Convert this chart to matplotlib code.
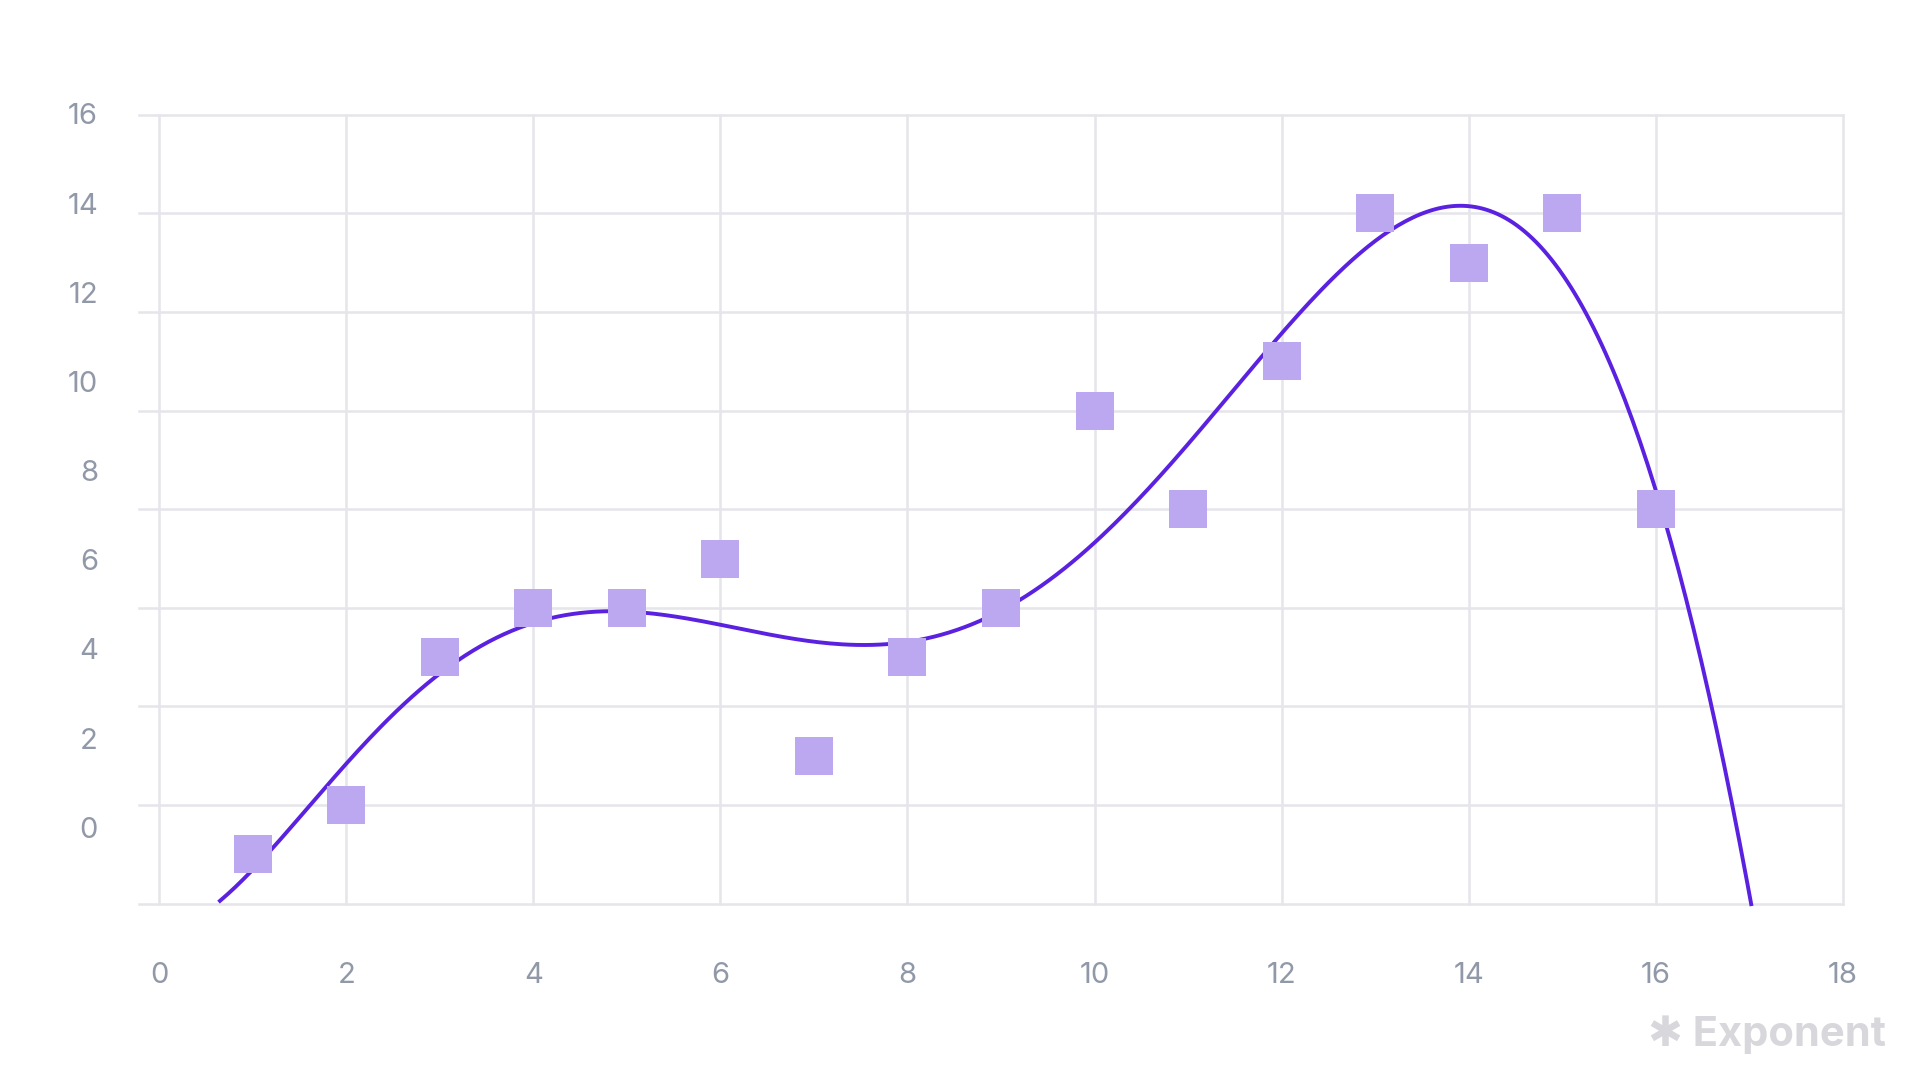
import numpy as np
import matplotlib
matplotlib.use("Agg")
import matplotlib.pyplot as plt

x_pts = [1, 2, 3, 4, 5, 6, 7, 8, 9, 10, 11, 12, 13, 14, 15, 16]
y_pts = [-1, 0, 3, 4, 4, 5, 1, 3, 4, 8, 6, 9, 12, 11, 12, 6]
x_ticks = [0, 2, 4, 6, 8, 10, 12, 14, 16, 18]
y_labels = ["0", "2", "4", "6", "8", "10", "12", "14", "16"]

plt.rcParams['font.family'] = ['Inter', 'DejaVu Sans']
fig = plt.figure(figsize=(19.2, 10.8), dpi=100)
ax = fig.add_axes([130/1568, 1-738/882, (1505-130)/1568, (738-93)/882])
ax.set_xlim(0, 18)
ax.set_ylim(-2, 14)
grid_c = '#e5e5ea'
txt_c = '#9199a8'
for s in ax.spines.values():
    s.set_visible(False)
for xv in x_ticks:
    ax.plot([xv, xv], [-2, 14], color=grid_c, lw=1.8, zorder=0, clip_on=False)
for yv in range(-2, 15, 2):
    ax.plot([-0.22, 18], [yv, yv], color=grid_c, lw=1.8, zorder=0, clip_on=False)

coef = np.polyfit(x_pts, y_pts, 6)
xs = np.linspace(0.65, 17.02, 400)
ys = np.polyval(coef, xs)
ax.plot(xs, ys, color='#5b21e0', lw=2.8, zorder=3, clip_on=False)
ax.scatter(x_pts, y_pts, marker='s', s=750, color='#bba8f0', zorder=4, linewidths=0)

ax.set_xticks(x_ticks)
ax.set_xticklabels([str(v) for v in x_ticks])
ax.set_yticks(np.linspace(-0.45, 14.02, len(y_labels)))
ax.set_yticklabels(y_labels)
ax.tick_params(length=0, labelsize=21, colors=txt_c)
ax.tick_params(axis='x', pad=42)
ax.tick_params(axis='y', pad=44)
fig.text(1540/1568, 1-845/882, "✱ Exponent", ha='right', va='center', fontsize=30,
         fontweight='bold', color='#d8d8dc')
fig.savefig("out.png")
